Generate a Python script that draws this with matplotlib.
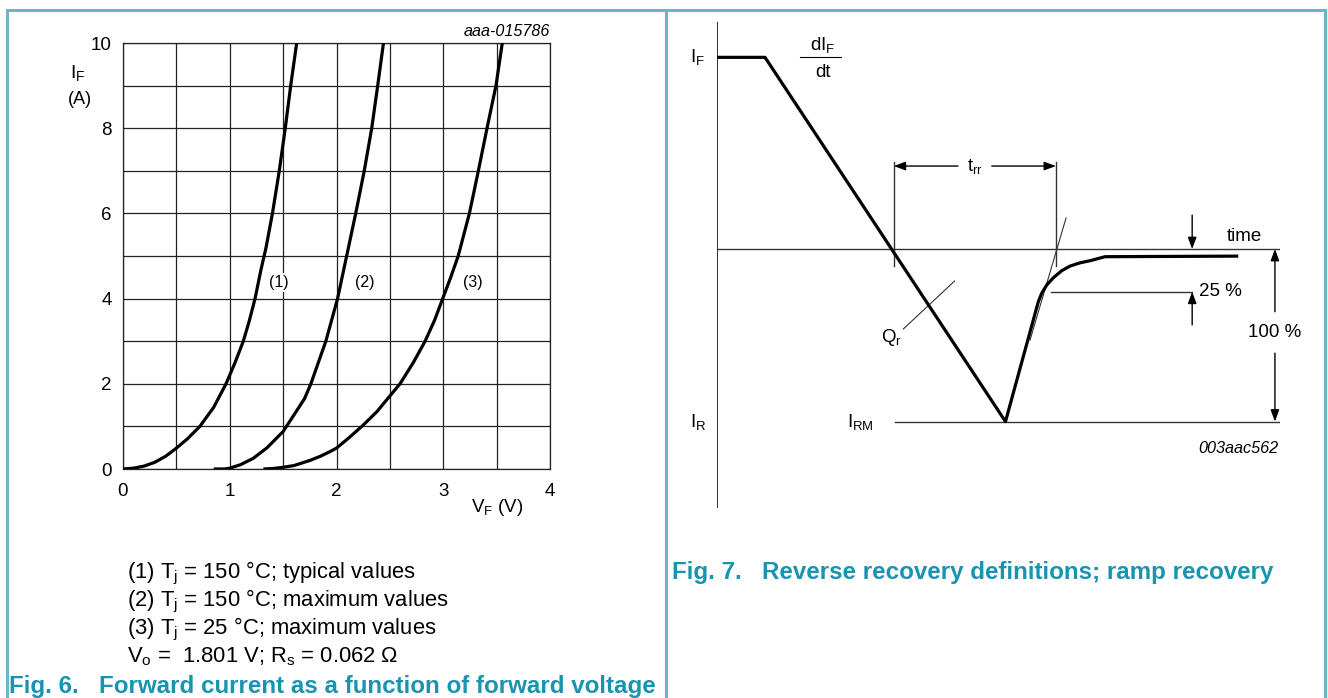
import matplotlib
matplotlib.use('Agg')
from matplotlib import pyplot as plt
from matplotlib.patches import FancyArrowPatch
from matplotlib.lines import Line2D

plt.rcParams['font.family'] = ['Liberation Sans', 'DejaVu Sans']
plt.rcParams['mathtext.fontset'] = 'custom'
plt.rcParams['mathtext.rm'] = 'Liberation Sans'
plt.rcParams['mathtext.it'] = 'Liberation Sans:italic'

W, H = 1328, 698
border = '#6cb4c6'
teal = '#1893b0'

# ---- Fig. 6 data: forward current (A) vs forward voltage (V)
v1 = [0, 0.1, 0.2, 0.3, 0.4, 0.5, 0.6, 0.72, 0.85, 0.965, 1.05, 1.127, 1.18, 1.237,
      1.29, 1.34, 1.40, 1.464, 1.52, 1.571, 1.627]
i1 = [0, 0.02, 0.07, 0.16, 0.3, 0.49, 0.7, 1.0, 1.45, 2.0, 2.5, 3.0, 3.45, 4.0,
      4.65, 5.2, 6.0, 7.0, 8.0, 9.0, 10.0]
v2 = [0.85, 0.95, 1.0, 1.1, 1.22, 1.35, 1.5, 1.62, 1.7, 1.76, 1.9, 2.01, 2.095, 2.18,
      2.26, 2.33, 2.386, 2.44]
i2 = [0, 0.0, 0.02, 0.1, 0.25, 0.5, 0.88, 1.34, 1.65, 2.0, 3.0, 4.0, 5.0, 6.0,
      7.0, 8.0, 9.0, 10.0]
v3 = [1.315, 1.4, 1.5, 1.6, 1.75, 1.85, 1.94, 2.0, 2.12, 2.25, 2.38, 2.495, 2.595,
      2.72, 2.83, 2.92, 2.995, 3.07, 3.14, 3.245, 3.329, 3.41, 3.494, 3.553]
i3 = [0, 0.01, 0.04, 0.08, 0.2, 0.3, 0.41, 0.49, 0.74, 1.03, 1.35, 1.7, 2.0,
      2.5, 3.0, 3.5, 4.0, 4.5, 5.0, 6.0, 7.0, 8.0, 9.0, 10.0]
curve_labels = ['(1)', '(2)', '(3)']
label_v = [1.461, 2.267, 3.279]
label_i = [4.37, 4.37, 4.37]
x_ticks = [0, 1, 2, 3, 4]
y_ticks = [0, 2, 4, 6, 8, 10]
notes = [r'(1) T$_{\rm j}$ = 150 °C; typical values',
         r'(2) T$_{\rm j}$ = 150 °C; maximum values',
         r'(3) T$_{\rm j}$ = 25 °C; maximum values',
         r'V$_{\rm o}$ =  1.801 V; R$_{\rm s}$ = 0.062 Ω']

# ---- Fig. 7 schematic: time (a.u.) vs current (relative to I_F)
t_wave = [0, 0.853, 5.124, 5.707, 5.767, 5.856, 5.974, 6.123, 6.27, 6.448, 6.625, 6.892, 9.23]
i_wave = [1.0, 1.0, -0.90, -0.275, -0.231, -0.188, -0.150, -0.113, -0.089, -0.072, -0.061, -0.040, -0.037]
i_rm = -0.90
t_rr = [3.14, 6.02]
t_tangent = [5.56, 6.20]
i_tangent = [-0.475, 0.162]
t_qr = [3.31, 4.22]
i_qr = [-0.417, -0.167]
i_25 = -0.223


def fx(x):
    return x / W


def fy(y):
    return 1 - y / H


fig = plt.figure(figsize=(W / 100, H / 100), dpi=100)

# panel frame
for xs, ys in [([7, 1325], [10, 10]), ([7, 7], [10, H]), ([665.5, 665.5], [10, H]), ([1325, 1325], [10, H])]:
    fig.add_artist(Line2D([fx(x) for x in xs], [fy(y) for y in ys], color=border, lw=2.2))

# ================= Fig. 6 =================
ax = fig.add_axes([fx(123), fy(469), fx(550 - 123), (469 - 43) / H])
for v, i in zip([v1, v2, v3], [i1, i2, i3]):
    ax.plot(v, i, color='black', lw=2.3, solid_capstyle='butt', solid_joinstyle='round', zorder=3)
ax.set_xlim(0, 4)
ax.set_ylim(0, 10)
ax.set_xticks(x_ticks)
ax.set_yticks(y_ticks)
ax.set_xticks([0.5, 1.5, 2.5, 3.5], minor=True)
ax.set_yticks([1, 3, 5, 7, 9], minor=True)
ax.grid(True, which='both', color='#222222', lw=0.9)
ax.tick_params(which='both', length=0, labelsize=13.5, colors='black')
ax.tick_params(axis='x', pad=10)
ax.tick_params(axis='y', pad=8)
for s in ax.spines.values():
    s.set_color('#222222')
    s.set_linewidth(0.9)
ax.set_axisbelow(True)
for lab, lv, li in zip(curve_labels, label_v, label_i):
    ax.text(lv, li, lab, fontsize=11.5, ha='center', va='center', zorder=4,
            bbox=dict(facecolor='white', edgecolor='none', pad=1.5))

fig.text(fx(78), fy(73), r'I$_{\rm F}$', fontsize=14, ha='center', va='center')
fig.text(fx(80), fy(100), '(A)', fontsize=13, ha='center', va='center')
fig.text(fx(497), fy(507), r'V$_{\rm F}$ (V)', fontsize=13.5, ha='center', va='center')
fig.text(fx(550), fy(31), 'aaa-015786', fontsize=11.6, style='italic', ha='right', va='center')

for k, line in enumerate(notes):
    fig.text(fx(127), fy(573 + 28 * k), line, fontsize=15.8, ha='left', va='center')
fig.text(fx(9), fy(686), 'Fig. 6.   Forward current as a function of forward voltage',
         fontsize=17.4, fontweight='bold', color=teal, ha='left', va='center')

# ================= Fig. 7 =================
ax2 = fig.add_axes([fx(717), fy(508), fx(1280 - 717), (508 - 21.7) / H])
ax2.set_xlim(0, 10)
ax2.set_ylim(-1.351, 1.186)
ax2.axis('off')

thin = dict(color='#333333', lw=1.0)
ax2.plot([0, 0], [-1.351, 1.186], color='#333333', lw=1.4)
ax2.plot([0, 10], [0, 0], **thin)
ax2.plot([3.16, 10], [i_rm, i_rm], **thin)
ax2.plot(t_wave, i_wave, color='black', lw=2.3, solid_joinstyle='round', zorder=3)
ax2.plot(t_tangent, i_tangent, color='#333333', lw=0.8)
ax2.plot(t_qr, i_qr, color='#333333', lw=0.8)
for t in t_rr:
    ax2.plot([t, t], [0.455, -0.089], **thin)
ax2.plot([5.93, 8.44], [i_25, i_25], **thin)


def arrow(x0, y0, x1, y1):
    ax2.add_patch(FancyArrowPatch((x0, y0), (x1, y1), arrowstyle='-|>,head_length=7,head_width=2.6',
                                  color='black', lw=1.0, shrinkA=0, shrinkB=0, mutation_scale=1))


arrow(4.28, 0.433, t_rr[0], 0.433)
arrow(4.88, 0.433, t_rr[1], 0.433)
arrow(8.44, 0.177, 8.44, 0)
arrow(8.44, -0.396, 8.44, i_25)
arrow(9.91, -0.327, 9.91, 0)
arrow(9.91, -0.543, 9.91, i_rm)

txt = dict(fontsize=13.5, ha='center', va='center')
ax2.text(-0.34, 1.0, r'I$_{\rm F}$', **txt)
ax2.text(-0.34, i_rm, r'I$_{\rm R}$', **txt)
ax2.text(2.55, i_rm, r'I$_{\rm RM}$', **txt)
ax2.text(1.88, 1.064, r'dI$_{\rm F}$', **txt)
ax2.plot([1.47, 2.21], [1.0, 1.0], color='black', lw=0.8)
ax2.text(1.88, 0.923, 'dt', **txt)
ax2.text(4.58, 0.433, r't$_{\rm rr}$', **txt)
ax2.text(3.10, -0.464, r'Q$_{\rm r}$', **txt)
ax2.text(9.37, 0.063, 'time', **txt)
ax2.text(8.56, i_25, '25 %', fontsize=13.5, ha='left', va='center')
ax2.text(9.9, -0.438, '100 %', **txt)
ax2.text(9.98, -1.038, '003aac562', fontsize=11.7, style='italic', ha='right', va='center')

fig.text(fx(672), fy(572), 'Fig. 7.   Reverse recovery definitions; ramp recovery',
         fontsize=17.4, fontweight='bold', color=teal, ha='left', va='center')

fig.savefig('out.png', dpi=100)
